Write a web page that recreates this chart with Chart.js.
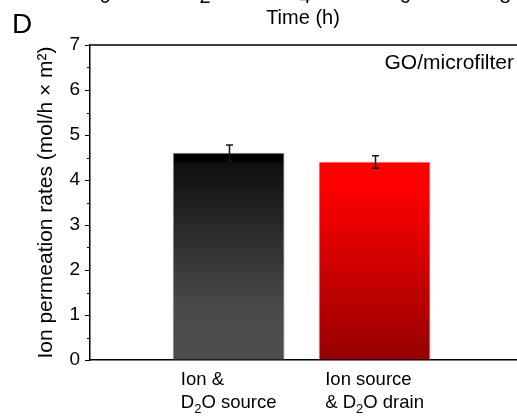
<!DOCTYPE html>
<html>
<head>
<meta charset="utf-8">
<script src="https://cdn.jsdelivr.net/npm/chart.js@4/dist/chart.umd.min.js"></script>
<style>
  html, body { margin: 0; padding: 0; background: #fff; }
</style>
</head>
<body>
<canvas id="chart" width="517" height="418"></canvas>
<script>
// data
const positions = [1, 2];
const rates = [4.6, 4.4];
const errors = [0.18, 0.14];
const xLabels = [['Ion &', 'D\u2082O source'], ['Ion source', '& D\u2082O drain']];
const yTicks = [0, 1, 2, 3, 4, 5, 6, 7];
const topPanelTicks = ['0', '2', '4', '6', '8'];

const FONT = '"Liberation Sans", Arial, Helvetica, sans-serif';
Chart.defaults.font.family = FONT;
Chart.defaults.color = '#000';

// bar fills: top colour -> bottom colour
const fills = [
  [[0, '#000000'], [0.04, '#000000'], [0.05, '#0e0e0e'], [0.75, '#4a4a4a'], [1, '#4d4d4d']],
  [[0, '#ff0000'], [0.12, '#ff0000'], [1, '#960000']]
];

function barFill(ctx) {
  const chart = ctx.chart;
  const area = chart.chartArea;
  const stops = fills[ctx.dataIndex];
  if (!area) return stops[0][1];
  const top = chart.scales.y.getPixelForValue(rates[ctx.dataIndex]);
  const g = chart.ctx.createLinearGradient(0, top, 0, area.bottom);
  stops.forEach(s => g.addColorStop(s[0], s[1]));
  return g;
}

// text with a subscript 2
const LBL = 18.5, SUB = 13;
function textWidth(c, str) {
  let w = 0;
  str.split(/(\u2082)/).forEach(part => {
    if (!part) return;
    if (part === '\u2082') { c.font = SUB + 'px ' + FONT; w += c.measureText('2').width; }
    else { c.font = LBL + 'px ' + FONT; w += c.measureText(part).width; }
  });
  return w;
}
function drawRich(c, str, x, y) {
  str.split(/(\u2082)/).forEach(part => {
    if (!part) return;
    if (part === '\u2082') {
      c.font = SUB + 'px ' + FONT;
      c.fillText('2', x, y + 5);
      x += c.measureText('2').width;
    } else {
      c.font = LBL + 'px ' + FONT;
      c.fillText(part, x, y);
      x += c.measureText(part).width;
    }
  });
}

const decorations = {
  id: 'decorations',
  afterDatasetsDraw(chart) {
    const c = chart.ctx;
    const area = chart.chartArea;
    const xs = chart.scales.x;
    const ys = chart.scales.y;
    c.save();

    // error bars
    c.strokeStyle = '#141414';
    c.lineWidth = 1.5;
    positions.forEach((p, i) => {
      const x = Math.round(xs.getPixelForValue(p)) + 0.5;
      const yt = ys.getPixelForValue(rates[i] + errors[i]);
      const yb = ys.getPixelForValue(rates[i] - errors[i]);
      c.beginPath();
      c.moveTo(x, yt); c.lineTo(x, yb);
      c.moveTo(x - 3.5, yt); c.lineTo(x + 3.5, yt);
      c.moveTo(x - 3.5, yb); c.lineTo(x + 3.5, yb);
      c.stroke();
    });

    // top frame line
    c.strokeStyle = '#000';
    c.lineWidth = 1.5;
    c.beginPath();
    c.moveTo(area.left, area.top); c.lineTo(area.right, area.top);
    c.stroke();

    // minor y ticks
    c.lineWidth = 1;
    for (let v = 0.5; v < 7; v += 1) {
      const y = Math.round(ys.getPixelForValue(v)) + 0.5;
      c.beginPath();
      c.moveTo(area.left - 3, y); c.lineTo(area.left, y);
      c.stroke();
    }

    // category labels, block centred under each bar, lines left aligned
    c.fillStyle = '#000';
    c.textAlign = 'left';
    c.textBaseline = 'alphabetic';
    xLabels.forEach((lines, i) => {
      const cx = xs.getPixelForValue(positions[i]);
      const w = Math.max(...lines.map(l => textWidth(c, l)));
      lines.forEach((l, k) => drawRich(c, l, cx - w / 2, area.bottom + 25 + k * 23));
    });

    // inset label
    c.font = '21px ' + FONT;
    c.textAlign = 'right';
    c.fillText('GO/microfilter', 514, 69);

    // panel letter and remnants of the panel above
    c.textAlign = 'left';
    c.font = '28px ' + FONT;
    c.fillText('D', 12, 33);
    c.font = '20px ' + FONT;
    c.textAlign = 'center';
    c.fillText('Time (h)', 303, 24);
    topPanelTicks.forEach((t, i) => c.fillText(t, 105 + i * 100, 3));
    c.restore();
  }
};

new Chart(document.getElementById('chart'), {
  type: 'bar',
  data: {
    datasets: [{
      data: positions.map((p, i) => ({ x: p, y: rates[i] })),
      backgroundColor: barFill,
      borderColor: ['#9a9a9a', '#ff8c8c'],
      borderWidth: 1,
      barThickness: 111
    }]
  },
  options: {
    responsive: false,
    animation: false,
    devicePixelRatio: 1,
    layout: { padding: { top: 45, right: 0, bottom: 58, left: 0 } },
    plugins: { legend: { display: false }, tooltip: { enabled: false } },
    scales: {
      x: {
        type: 'linear',
        min: 0.05,
        max: 2.976,
        offset: false,
        ticks: { display: false },
        grid: { display: false },
        border: { display: true, color: '#000', width: 1.5 },
        afterFit: s => { s.height = 0; }
      },
      y: {
        min: 0,
        max: 7,
        afterBuildTicks: s => { s.ticks = yTicks.map(v => ({ value: v })); },
        ticks: { font: { size: 19 }, color: '#000', padding: 5 },
        grid: { drawOnChartArea: false, tickLength: 5, tickColor: '#000', tickWidth: 1 },
        border: { display: true, color: '#000', width: 1.5 },
        title: {
          display: true,
          text: 'Ion permeation rates (mol/h \u00d7 m\u00b2)',
          font: { size: 21 },
          color: '#000',
          padding: { top: 34, bottom: 0 }
        },
        afterFit: s => { s.width = 90; }
      }
    }
  },
  plugins: [decorations]
});
</script>
</body>
</html>
